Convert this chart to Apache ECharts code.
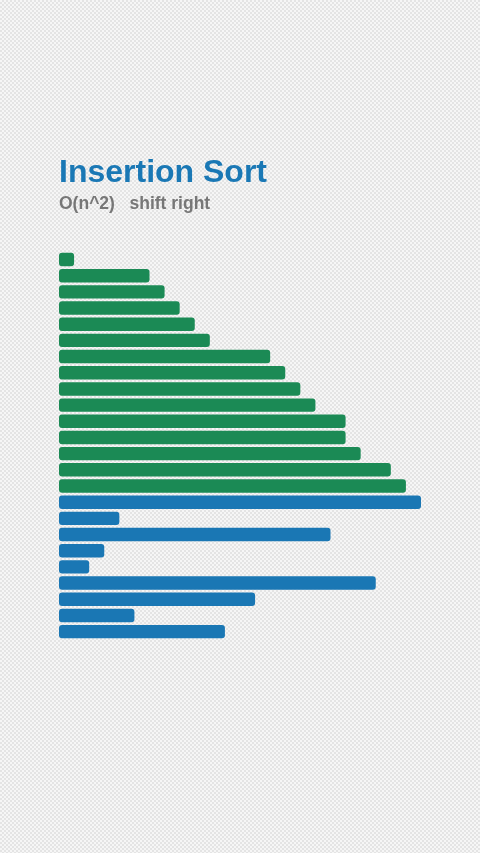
<!DOCTYPE html>
<html>
<head>
<meta charset="utf-8">
<script src="https://cdn.jsdelivr.net/npm/echarts@6/dist/echarts.min.js"></script>
<style>
html,body{margin:0;padding:0;width:480px;height:853px;overflow:hidden;}
body{
  background-color:#f5f5f5;
  background-image:repeating-conic-gradient(#e4e4e4 0% 25%, #f6f6f6 0% 50%);
  background-size:4px 4px;
}
#chart{width:480px;height:853px;}
</style>
</head>
<body>
<div id="chart"></div>
<script>
const titleText = 'Insertion Sort';
const subtitleText = 'O(n^2)   shift right';
const categories = ['1','2','3','4','5','6','7','8','9','10','11','12','13','14','15','16','17','18','19','20','21','22','23','24'];
const values = [1,6,7,8,9,10,14,15,16,17,19,19,20,22,23,24,4,18,3,2,21,13,5,11];
const sortedCount = 15;
const sortedColor = '#1b8a55';
const unsortedColor = '#1a77b4';

const chart = echarts.init(document.getElementById('chart'), null, {renderer:'canvas'});
chart.setOption({
  backgroundColor:'transparent',
  animation:false,
  title:{
    text:titleText,
    subtext:subtitleText,
    left:54, top:152.5,
    itemGap:5.5,
    textStyle:{fontFamily:'Liberation Sans, Arial, sans-serif', fontSize:32, fontWeight:'bold', color:'#1a78b5'},
    subtextStyle:{fontFamily:'Liberation Sans, Arial, sans-serif', fontSize:17.5, fontWeight:'bold', color:'#777777'}
  },
  grid:{left:59, right:59, top:251.4, height:388.3},
  xAxis:{type:'value', min:0, max:24, show:false},
  yAxis:{type:'category', data:categories, inverse:true, show:false},
  series:[{
    type:'bar',
    data:values.map((v,i)=>({value:v, itemStyle:{color: i < sortedCount ? sortedColor : unsortedColor}})),
    barCategoryGap:'17%',
    itemStyle:{borderRadius:3},
    silent:true
  }]
});
</script>
</body>
</html>
